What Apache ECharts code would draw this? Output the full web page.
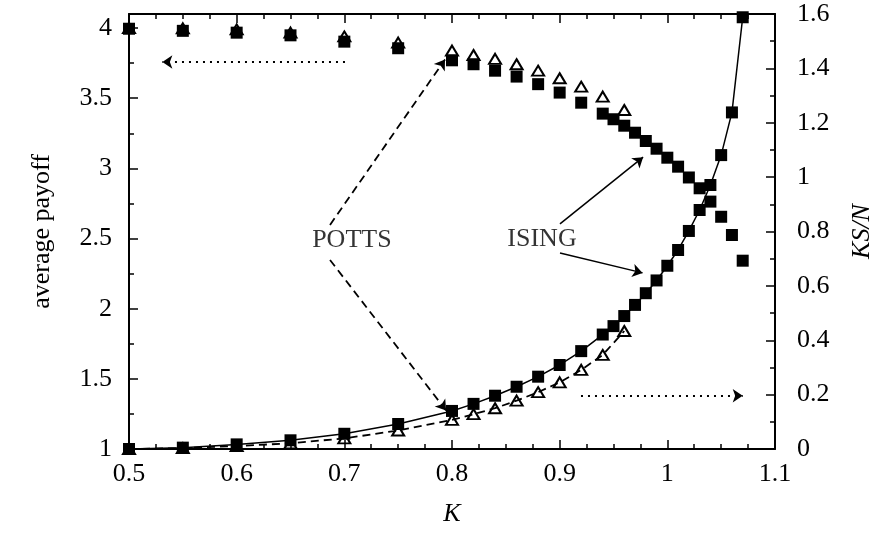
<!DOCTYPE html>
<html>
<head>
<meta charset="utf-8">
<script src="https://cdn.jsdelivr.net/npm/echarts@6/dist/echarts.min.js"></script>
<style>
  html, body { margin: 0; padding: 0; background: #fff; }
  #chart { width: 887px; height: 533px; }
</style>
</head>
<body>
<div id="chart"></div>
<script>
// Coupling values K for the Ising run and the Potts run
const kIsing = [0.5, 0.55, 0.6, 0.65, 0.7, 0.75, 0.8, 0.82, 0.84, 0.86, 0.88, 0.9, 0.92, 0.94, 0.95,
                0.96, 0.97, 0.98, 0.99, 1.0, 1.01, 1.02, 1.03, 1.04, 1.05, 1.06, 1.07];
const kPotts = [0.5, 0.55, 0.6, 0.65, 0.7, 0.75, 0.8, 0.82, 0.84, 0.86, 0.88, 0.9, 0.92, 0.94, 0.96];

// Average payoff (left axis)
const payoffIsing = [3.995, 3.98, 3.967, 3.948, 3.903, 3.856, 3.77, 3.742, 3.696, 3.654, 3.60, 3.54, 3.468, 3.39, 3.35,
                     3.304, 3.254, 3.195, 3.14, 3.076, 3.012, 2.935, 2.858, 2.763, 2.655, 2.525, 2.342];
const payoffPotts = [4.0, 3.998, 3.99, 3.967, 3.94, 3.896, 3.839, 3.808, 3.78, 3.742, 3.696, 3.642, 3.582, 3.511, 3.416];

// KS/N (right axis)
const ksIsing = [0.0, 0.005, 0.017, 0.032, 0.056, 0.092, 0.140, 0.166, 0.196, 0.229, 0.266, 0.309, 0.360, 0.421, 0.452,
                 0.489, 0.530, 0.573, 0.620, 0.674, 0.732, 0.802, 0.879, 0.971, 1.081, 1.238, 1.588];
const ksPotts = [0.0, 0.003, 0.011, 0.021, 0.039, 0.068, 0.107, 0.128, 0.150, 0.178, 0.209, 0.245, 0.291, 0.346, 0.434];

const FONT = '"Liberation Serif", "Times New Roman", Times, serif';
const BLACK = '#000';
const pairs = (xs, ys) => xs.map((x, i) => [x, ys[i]]);

const tickStyle = { color: BLACK, width: 1.5 };
const lineAxis = { show: true, onZero: false, lineStyle: { color: BLACK, width: 2 } };
const labelStyle = { color: BLACK, fontFamily: FONT, fontSize: 26 };

function xAxisDef(position, withLabels) {
  return {
    type: 'value', position: position, min: 0.5, max: 1.1, interval: 0.1,
    axisLine: lineAxis,
    axisTick: { show: true, inside: true, length: 9, lineStyle: tickStyle },
    minorTick: { show: true, splitNumber: 4, length: 5, lineStyle: tickStyle },
    axisLabel: Object.assign({ show: withLabels, margin: 12 }, labelStyle),
    splitLine: { show: false }, minorSplitLine: { show: false },
    name: withLabels ? 'K' : '',
    nameLocation: 'middle', nameGap: 52,
    nameTextStyle: Object.assign({ fontStyle: 'italic' }, labelStyle)
  };
}

const squareStyle = { color: BLACK, opacity: 1 };
const triangleStyle = { color: 'rgba(0,0,0,0)', borderColor: BLACK, borderWidth: 2, opacity: 1 };
const arrowCommon = {
  type: 'lines', coordinateSystem: 'cartesian2d', xAxisIndex: 0,
  symbol: ['none', 'arrow'], symbolSize: 10, silent: true, z: 5,
  itemStyle: { color: BLACK }
};

const option = {
  animation: false,
  backgroundColor: '#fff',
  grid: { left: 129, right: 112, top: 14, bottom: 84, containLabel: false },
  xAxis: [xAxisDef('bottom', true), xAxisDef('top', false)],
  yAxis: [
    {
      type: 'value', position: 'left', min: 1, max: 4.1, interval: 0.5,
      axisLine: lineAxis,
      axisTick: { show: true, inside: true, length: 9, lineStyle: tickStyle },
      minorTick: { show: true, splitNumber: 2, length: 5, lineStyle: tickStyle },
      axisLabel: Object.assign({ margin: 17, showMaxLabel: false }, labelStyle),
      splitLine: { show: false },
      name: 'average payoff', nameLocation: 'middle', nameGap: 74,
      nameTextStyle: labelStyle
    },
    {
      type: 'value', position: 'right', min: 0, max: 1.6, interval: 0.2,
      axisLine: lineAxis,
      axisTick: { show: true, inside: true, length: 9, lineStyle: tickStyle },
      minorTick: { show: true, splitNumber: 2, length: 5, lineStyle: tickStyle },
      axisLabel: Object.assign({ margin: 22 }, labelStyle),
      splitLine: { show: false },
      name: 'KS/N', nameLocation: 'middle', nameGap: 74,
      nameTextStyle: Object.assign({ fontStyle: 'italic' }, labelStyle)
    }
  ],
  series: [
    {
      name: 'ISING payoff', type: 'scatter', xAxisIndex: 0, yAxisIndex: 0,
      symbol: 'rect', symbolSize: 12, itemStyle: squareStyle,
      data: pairs(kIsing, payoffIsing), z: 3
    },
    {
      name: 'POTTS payoff', type: 'scatter', xAxisIndex: 0, yAxisIndex: 0,
      symbol: 'triangle', symbolSize: [12, 10], itemStyle: triangleStyle,
      data: pairs(kPotts, payoffPotts), z: 4
    },
    {
      name: 'ISING KS/N', type: 'line', xAxisIndex: 0, yAxisIndex: 1,
      symbol: 'rect', symbolSize: 12, showSymbol: true,
      lineStyle: { color: BLACK, width: 1.5 }, itemStyle: squareStyle,
      data: pairs(kIsing, ksIsing), z: 3
    },
    {
      name: 'POTTS KS/N', type: 'line', xAxisIndex: 0, yAxisIndex: 1,
      symbol: 'triangle', symbolSize: [12, 10], showSymbol: true,
      lineStyle: { color: BLACK, width: 1.8, type: [8, 5] }, itemStyle: triangleStyle,
      data: pairs(kPotts, ksPotts), z: 4
    },
    // POTTS pointers (dashed)
    Object.assign({}, arrowCommon, {
      yAxisIndex: 0,
      lineStyle: { color: BLACK, width: 1.8, type: [8, 5], opacity: 1, curveness: 0 },
      data: [
        { coords: [[0.6867, 2.597], [0.7935, 3.775]] },
        { coords: [[0.6867, 2.347], [0.7945, 1.275]] }
      ]
    }),
    // ISING pointers (solid)
    Object.assign({}, arrowCommon, {
      yAxisIndex: 0,
      lineStyle: { color: BLACK, width: 1.5, type: 'solid', opacity: 1, curveness: 0 },
      data: [
        { coords: [[0.9003, 2.604], [0.9775, 3.08]] },
        { coords: [[0.9003, 2.397], [0.977, 2.255]] }
      ]
    }),
    // Dotted axis-direction arrows
    Object.assign({}, arrowCommon, {
      yAxisIndex: 0,
      lineStyle: { color: BLACK, width: 2, type: [2, 5], opacity: 1, curveness: 0 },
      data: [{ coords: [[0.7006, 3.758], [0.531, 3.758]] }]
    }),
    Object.assign({}, arrowCommon, {
      yAxisIndex: 1,
      lineStyle: { color: BLACK, width: 2, type: [2, 5], opacity: 1, curveness: 0 },
      data: [{ coords: [[0.9198, 0.196], [1.070, 0.196]] }]
    }),
    // Text labels
    {
      type: 'scatter', xAxisIndex: 0, yAxisIndex: 0, symbolSize: 0, silent: true, z: 6,
      label: Object.assign({ show: true, position: 'inside', formatter: '{b}' }, labelStyle),
      data: [
        { name: 'POTTS', value: [0.707, 2.49] },
        { name: 'ISING', value: [0.8836, 2.497] }
      ]
    }
  ]
};

const chart = echarts.init(document.getElementById('chart'), null, { renderer: 'canvas' });
chart.setOption(option);
</script>
</body>
</html>
